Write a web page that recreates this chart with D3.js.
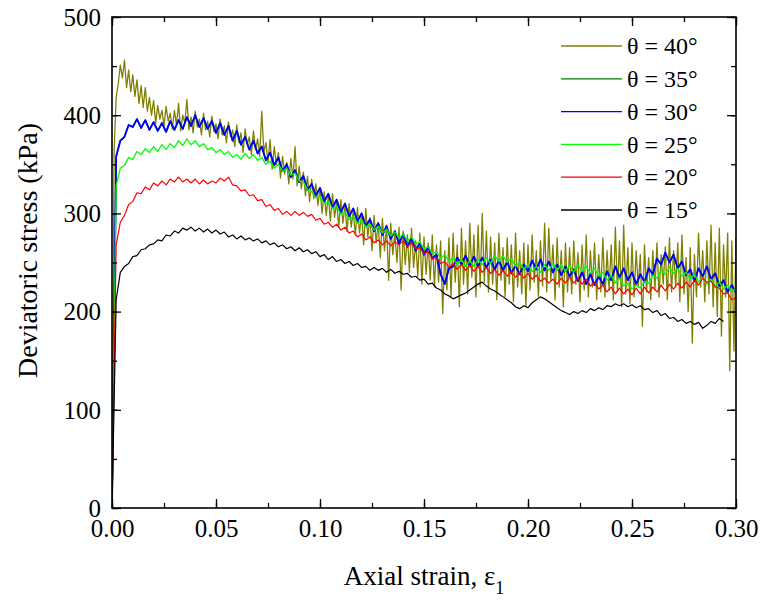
<!DOCTYPE html>
<html>
<head>
<meta charset="utf-8">
<script src="https://cdn.jsdelivr.net/npm/d3@7"></script>
<style>
html,body{margin:0;padding:0;background:#fff;}
svg{display:block;}
svg text{font-family:"Liberation Serif","Times New Roman","DejaVu Serif",serif;}
</style>
</head>
<body>
<svg id="chart" width="760" height="603"></svg>
<script>
// ---------- DATA ----------
const xTicks = [0.00, 0.05, 0.10, 0.15, 0.20, 0.25, 0.30];
const xTickLabels = ["0.00", "0.05", "0.10", "0.15", "0.20", "0.25", "0.30"];
const yTicks = [0, 100, 200, 300, 400, 500];
const yTickLabels = ["0", "100", "200", "300", "400", "500"];
const seriesNames = ["θ = 40°", "θ = 35°", "θ = 30°", "θ = 25°", "θ = 20°", "θ = 15°"];
const seriesColors = ["#808000", "#008000", "#0000ff", "#00ff00", "#ff0000", "#000000"];

// sampling steps of the recorded strain (fine for 40°, coarser for others)
const strainStepFine = 0.001;
const strainStep = 0.002;

const stress40 = [
0,362,418,432,451,438,456,428,446,424,
441,419,436,412,430,408,428,404,418,400,
415,392,410,396,405,389,409,394,402,386,
405,390,412,384,400,392,416,385,398,382,
404,388,396,380,402,385,394,378,399,383,
391,376,396,380,389,372,393,378,385,368,
390,372,382,362,386,370,378,360,384,365,
376,358,404,362,372,352,375,345,368,350,
362,336,358,340,352,330,356,335,368,328,
348,325,342,318,338,312,335,315,330,308,
326,300,322,298,318,292,320,296,312,286,
314,290,308,282,310,286,302,278,306,280,
300,268,305,276,296,262,298,270,290,255,
295,262,288,232,290,258,280,250,286,222,
282,248,278,240,285,245,272,236,280,228,
276,238,270,232,278,225,268,230,272,198,
262,222,275,215,280,230,268,205,285,228,
272,218,290,235,278,215,288,225,300,230,
282,220,276,228,270,212,280,232,265,215,
275,228,268,210,280,225,262,218,270,205,
268,222,278,230,262,215,272,226,290,220,
285,232,268,212,275,225,262,205,270,220,
265,218,272,228,260,210,268,222,278,215,
262,225,270,212,258,220,275,215,262,222,
268,212,286,220,272,205,288,218,265,208,
270,215,262,225,258,185,268,220,255,212,
262,222,270,215,258,228,266,212,275,220,
262,225,270,210,278,218,255,200,265,168,
258,215,280,225,262,210,272,218,288,205,
270,195,285,175,268,215,280,140,272,160,
275
];

const stress35 = [
0,358,374,378,390,388,396,387,395,385,
393,384,392,383,394,385,395,386,398,389,
400,388,397,386,394,382,392,380,389,374,
384,370,378,365,374,361,368,354,362,349,
357,343,350,337,344,332,338,324,330,318,
326,312,320,306,314,301,310,297,305,292,
300,287,294,282,290,278,287,274,282,269,
279,266,275,262,270,258,266,254,258,238,
228,244,246,255,248,257,247,256,246,255,
245,253,243,252,242,251,239,247,238,248,
241,252,243,253,242,251,240,248,237,246,
236,243,231,240,228,238,227,236,228,241,
232,246,235,244,232,240,228,238,230,244,
238,254,248,260,250,258,244,251,237,243,
231,244,236,246,233,239,226,232,220,227,
219
];

const stress30 = [
0,358,374,378,390,388,396,387,395,385,
393,384,392,383,394,385,395,386,398,389,
400,388,397,386,394,382,392,380,389,374,
384,370,378,365,374,361,368,354,362,349,
357,343,350,337,344,332,338,324,330,318,
326,312,320,306,314,301,310,297,305,292,
300,287,294,282,290,278,287,274,282,269,
279,266,275,262,270,258,266,254,258,238,
228,244,246,255,248,257,247,256,246,255,
245,253,243,252,242,251,239,247,238,248,
241,252,243,253,242,251,240,248,237,246,
236,243,231,240,228,238,227,236,228,241,
232,246,235,244,232,240,228,238,230,244,
238,254,248,260,250,258,244,251,237,243,
231,244,236,246,233,239,226,232,220,227,
219
];

const stress25 = [
0,328,346,349,357,355,363,360,366,362,
368,363,370,365,371,367,374,369,376,370,
374,368,371,365,367,362,365,360,363,357,
360,355,361,356,360,354,357,350,353,346,
350,343,346,339,341,333,332,324,322,316,
317,310,312,305,307,299,302,294,297,290,
293,286,289,283,287,280,284,277,281,275,
279,272,276,269,271,264,266,259,261,254,
258,251,255,248,253,246,252,246,253,248,
255,249,257,251,257,250,254,246,250,243,
248,241,246,240,248,242,249,242,248,241,
247,240,248,241,246,239,244,236,240,232,
237,229,234,226,229,223,227,224,231,229,
237,234,242,238,245,239,244,236,240,233,
238,230,235,228,233,226,230,223,227,220,
224
];

const stress20 = [
0,268,291,298,309,312,321,320,327,324,
331,328,333,329,335,332,337,332,335,331,
335,330,334,330,333,331,336,333,337,329,
328,323,324,318,319,313,314,307,309,303,
305,299,302,298,302,298,301,297,299,293,
295,289,291,286,289,283,286,280,282,276,
279,273,276,270,273,268,272,267,271,268,
272,266,270,264,265,259,261,254,255,249,
251,245,249,243,248,242,247,241,246,240,
245,239,243,237,242,236,241,235,240,234,
239,233,237,231,234,229,233,228,234,229,
235,229,234,228,233,226,230,223,227,220,
225,218,224,218,223,217,224,218,225,219,
225,220,227,221,228,223,229,224,230,225,
232,227,234,230,231,225,224,218,219,212,
214
];

const stress15 = [
0,212,240,246,249,256,257,263,264,268,
269,273,272,278,277,282,280,285,283,286,
282,285,281,284,280,283,279,281,276,278,
274,277,273,275,272,274,270,272,268,270,
266,268,264,266,262,265,261,263,259,261,
256,258,253,256,251,253,249,251,247,249,
245,246,242,245,242,244,240,243,239,241,
238,239,235,236,232,233,228,229,224,222,
218,216,213,215,217,219,222,225,228,230,
226,223,221,218,215,212,209,205,203,206,
204,209,212,215,213,210,207,204,201,199,
197,200,198,201,199,203,201,204,202,206,
205,208,206,208,205,207,204,206,202,203,
199,201,196,198,193,194,190,192,188,190,
187,189,183,186,190,188,193,190
];

const seriesValues = [stress40, stress35, stress30, stress25, stress20, stress15];
const seriesSteps = [strainStepFine, strainStep, strainStep, strainStep, strainStep, strainStep];
const seriesWidths = [1.3, 1.6, 1.8, 1.3, 1.2, 1.2];

// ---------- LAYOUT ----------
const FONT = "'Liberation Serif','Times New Roman','DejaVu Serif',serif";
const W = 760, H = 603;
const m = {left: 112, top: 17, right: 24, bottom: 95};
const pw = W - m.left - m.right, ph = H - m.top - m.bottom;

const svg = d3.select("#chart");
const x = d3.scaleLinear().domain([0, 0.30]).range([m.left, m.left + pw]);
const y = d3.scaleLinear().domain([0, 500]).range([m.top + ph, m.top]);

svg.append("defs").append("clipPath").attr("id", "clip")
  .append("rect").attr("x", m.left).attr("y", m.top).attr("width", pw).attr("height", ph);

// lines
const line = d3.line().x(d => x(d[0])).y(d => y(d[1]));
const gLines = svg.append("g").attr("clip-path", "url(#clip)");
seriesValues.forEach((vals, i) => {
  const pts = vals.map((v, k) => [k * seriesSteps[i], v]);
  gLines.append("path").datum(pts)
    .attr("fill", "none")
    .attr("stroke", seriesColors[i])
    .attr("stroke-width", seriesWidths[i])
    .attr("stroke-linejoin", "round")
    .attr("d", line);
});

// axes (ticks inside)
const xMinor = d3.range(0, 0.3001, 0.025);
const yMinor = d3.range(0, 500.1, 50);
const majorLen = 9, minorLen = 5;

function drawAxis(axisGen, transform, scaleTicks, minor, labels) {
  const gMinor = svg.append("g").attr("transform", transform)
    .call(axisGen.tickValues(minor).tickSize(-minorLen).tickFormat(""));
  gMinor.select(".domain").remove();
  const g = svg.append("g").attr("transform", transform)
    .call(axisGen.tickValues(scaleTicks).tickSize(-majorLen).tickFormat((d, i) => labels ? labels[i] : ""));
  g.select(".domain").remove();
  g.attr("font-family", FONT);
  g.selectAll("line").attr("stroke", "#000").attr("stroke-width", 1.3);
  gMinor.selectAll("line").attr("stroke", "#000").attr("stroke-width", 1.3);
  return g;
}

const gx = drawAxis(d3.axisBottom(x), `translate(0,${m.top + ph})`, xTicks, xMinor, xTickLabels);
gx.selectAll("text").attr("font-size", 25).attr("fill", "#000")
  .attr("font-family", FONT).attr("dy", null).attr("y", 29);
drawAxis(d3.axisTop(x), `translate(0,${m.top})`, xTicks, xMinor, null);

const gy = drawAxis(d3.axisLeft(y), `translate(${m.left},0)`, yTicks, yMinor, yTickLabels);
gy.selectAll("text").attr("font-size", 25).attr("fill", "#000")
  .attr("font-family", FONT).attr("x", -11).attr("dy", "0.33em");
drawAxis(d3.axisRight(y), `translate(${m.left + pw},0)`, yTicks, yMinor, null);

// frame
svg.append("rect").attr("x", m.left).attr("y", m.top).attr("width", pw).attr("height", ph)
  .attr("fill", "none").attr("stroke", "#000").attr("stroke-width", 1.6);

// axis titles
const xt = svg.append("text").attr("x", m.left + pw / 2).attr("y", 585)
  .attr("text-anchor", "middle").attr("font-size", 27).attr("fill", "#000")
  .attr("font-family", FONT);
xt.append("tspan").text("Axial strain, ε");
xt.append("tspan").attr("font-size", 18).attr("dy", 9).text("1");

svg.append("text")
  .attr("transform", `translate(37,${m.top + ph / 2 - 12}) rotate(-90)`)
  .attr("text-anchor", "middle").attr("font-size", 28).attr("fill", "#000")
  .attr("font-family", FONT)
  .text("Deviatoric stress (kPa)");

// legend
const leg = svg.append("g");
seriesNames.forEach((name, i) => {
  const yy = 46 + i * 32.8;
  leg.append("line").attr("x1", 561).attr("x2", 622).attr("y1", yy).attr("y2", yy)
    .attr("stroke", seriesColors[i]).attr("stroke-width", 1.3);
  leg.append("text").attr("x", 627).attr("y", yy).attr("dy", "0.34em")
    .attr("font-size", 24).attr("fill", "#000").attr("font-family", FONT).text(name);
});
</script>
</body>
</html>
